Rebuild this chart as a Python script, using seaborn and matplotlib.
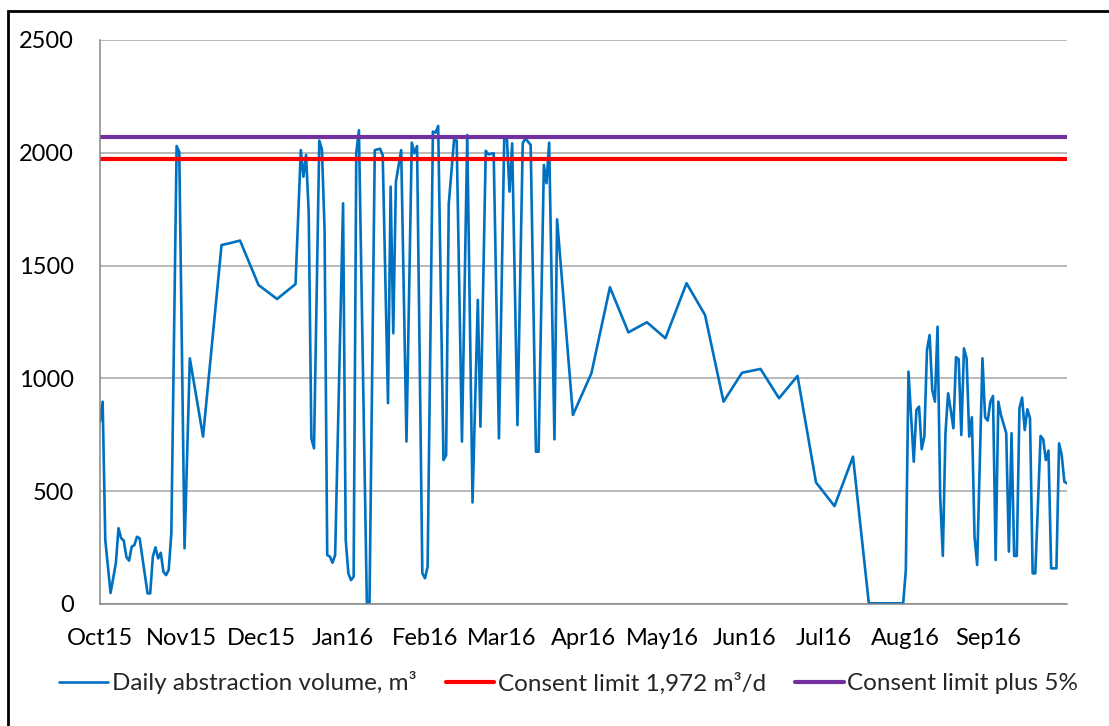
import pandas as pd
import matplotlib
matplotlib.use("Agg")
import matplotlib.pyplot as plt
from matplotlib.patches import Rectangle
import seaborn as sns

# daily abstraction volume (m3)
dates = [
    "2015-10-01", "2015-10-02", "2015-10-03", "2015-10-05", "2015-10-07", "2015-10-08",
    "2015-10-09", "2015-10-10", "2015-10-11", "2015-10-12", "2015-10-13", "2015-10-14",
    "2015-10-15", "2015-10-16", "2015-10-19", "2015-10-20", "2015-10-21", "2015-10-22",
    "2015-10-23", "2015-10-24", "2015-10-25", "2015-10-26", "2015-10-27", "2015-10-28",
    "2015-10-30", "2015-10-31", "2015-11-02", "2015-11-04", "2015-11-09", "2015-11-16",
    "2015-11-19", "2015-11-23", "2015-11-30", "2015-12-07", "2015-12-14", "2015-12-16",
    "2015-12-17", "2015-12-18", "2015-12-19", "2015-12-20", "2015-12-21", "2015-12-23",
    "2015-12-24", "2015-12-25", "2015-12-26", "2015-12-27", "2015-12-28", "2015-12-29",
    "2016-01-01", "2016-01-02", "2016-01-03", "2016-01-04", "2016-01-05", "2016-01-06",
    "2016-01-07", "2016-01-10", "2016-01-11", "2016-01-13", "2016-01-15", "2016-01-16",
    "2016-01-18", "2016-01-19", "2016-01-20", "2016-01-21", "2016-01-23", "2016-01-25",
    "2016-01-27", "2016-01-28", "2016-01-29", "2016-01-31", "2016-02-01", "2016-02-02",
    "2016-02-04", "2016-02-05", "2016-02-06", "2016-02-08", "2016-02-09", "2016-02-10",
    "2016-02-12", "2016-02-13", "2016-02-15", "2016-02-17", "2016-02-19", "2016-02-21",
    "2016-02-22", "2016-02-24", "2016-02-25", "2016-02-27", "2016-02-29", "2016-03-02",
    "2016-03-03", "2016-03-04", "2016-03-05", "2016-03-07", "2016-03-09", "2016-03-10",
    "2016-03-12", "2016-03-14", "2016-03-15", "2016-03-17", "2016-03-18", "2016-03-19",
    "2016-03-21", "2016-03-22", "2016-03-28", "2016-04-04", "2016-04-11", "2016-04-18",
    "2016-04-25", "2016-05-02", "2016-05-10", "2016-05-17", "2016-05-24", "2016-05-31",
    "2016-06-07", "2016-06-14", "2016-06-21", "2016-06-28", "2016-07-05", "2016-07-12",
    "2016-07-18", "2016-07-31", "2016-08-01", "2016-08-02", "2016-08-04", "2016-08-05",
    "2016-08-06", "2016-08-07", "2016-08-08", "2016-08-09", "2016-08-10", "2016-08-11",
    "2016-08-12", "2016-08-13", "2016-08-14", "2016-08-15", "2016-08-16", "2016-08-17",
    "2016-08-18", "2016-08-19", "2016-08-20", "2016-08-21", "2016-08-22", "2016-08-23",
    "2016-08-24", "2016-08-25", "2016-08-26", "2016-08-27", "2016-08-28", "2016-08-30",
    "2016-08-31", "2016-09-01", "2016-09-02", "2016-09-03", "2016-09-04", "2016-09-05",
    "2016-09-06", "2016-09-08", "2016-09-09", "2016-09-10", "2016-09-11", "2016-09-12",
    "2016-09-13", "2016-09-14", "2016-09-15", "2016-09-16", "2016-09-17", "2016-09-18",
    "2016-09-19", "2016-09-21", "2016-09-22", "2016-09-23", "2016-09-24", "2016-09-25",
    "2016-09-27", "2016-09-28", "2016-09-29", "2016-09-30", "2016-10-01",
]
volumes = [
    808, 897, 284, 49, 181, 336,
    292, 281, 208, 192, 254, 261,
    298, 291, 47, 47, 210, 251,
    202, 227, 143, 128, 151, 313,
    2030, 2005, 247, 1089, 742, 1591,
    1599, 1611, 1414, 1352, 1418, 2012,
    1894, 1990, 1732, 734, 690, 2054,
    2015, 1658, 217, 210, 183, 217,
    1776, 284, 136, 106, 121, 2000,
    2100, 3, 3, 2012, 2018, 1990,
    890, 1850, 1200, 1872, 2012, 720,
    2045, 1998, 2030, 136, 114, 165,
    2094, 2089, 2119, 638, 660, 1773,
    2057, 2054, 720, 2079, 450, 1348,
    786, 2009, 1993, 1998, 734, 2064,
    2064, 1828, 2042, 793, 2042, 2064,
    2035, 675, 675, 1946, 1865, 2045,
    730, 1705, 838, 1023, 1404, 1204,
    1249, 1178, 1422, 1281, 897, 1025,
    1042, 912, 1011, 539, 434, 653,
    3, 3, 150, 1030, 631, 860,
    875, 686, 742, 1126, 1192, 949,
    897, 1229, 476, 213, 757, 934,
    860, 779, 1094, 1085, 749, 1133,
    1089, 742, 828, 298, 173, 1089,
    828, 813, 897, 922, 195, 897,
    838, 757, 232, 757, 213, 213,
    867, 915, 771, 863, 823, 136,
    136, 745, 730, 638, 680, 158,
    158, 712, 660, 542, 535,
]

consent_limit = 1972
consent_plus5 = 2070.6
period = ["2015-10-01", "2016-10-01"]
month_labels = ["Oct15", "Nov15", "Dec15", "Jan16", "Feb16", "Mar16", "Apr16",
                "May16", "Jun16", "Jul16", "Aug16", "Sep16", ""]

df = pd.DataFrame({"date": pd.to_datetime(dates), "volume": volumes})
limits = pd.DataFrame({"date": pd.to_datetime(period),
                       "limit": [consent_limit] * 2,
                       "plus5": [consent_plus5] * 2})

sns.set_style("white")
plt.rcParams["font.family"] = ["Lato", "DejaVu Sans"]

fig = plt.figure(figsize=(11.09, 7.26), dpi=100)
ax = fig.add_axes([100 / 1109, 1 - 604 / 726, 967 / 1109, 564 / 726])

sns.lineplot(data=df, x="date", y="volume", ax=ax, color="#0070C0", lw=1.9,
             label="Daily abstraction volume, m³")
sns.lineplot(data=limits, x="date", y="limit", ax=ax, color="#FF0000", lw=3,
             label="Consent limit 1,972 m³/d")
sns.lineplot(data=limits, x="date", y="plus5", ax=ax, color="#7030A0", lw=3,
             label="Consent limit plus 5%")

ax.set_xlim(pd.Timestamp(period[0]), pd.Timestamp(period[1]))
ax.set_ylim(0, 2500)
ax.set_yticks(range(0, 2501, 500))
ax.set_xticks(pd.date_range(period[0], period[1], freq="MS"))
ax.set_xticklabels(month_labels)
ax.set_xlabel("")
ax.set_ylabel("")

ax.grid(axis="y", color="#A6A6A6", lw=1.1)
ax.set_axisbelow(True)
for s in ["top", "right"]:
    ax.spines[s].set_visible(False)
for s in ["left", "bottom"]:
    ax.spines[s].set_color("#868686")
    ax.spines[s].set_linewidth(1.1)
ax.tick_params(axis="both", direction="out", length=7, width=1.1, color="#868686",
               labelsize=17, labelcolor="black")
ax.tick_params(axis="y", pad=12)
ax.tick_params(axis="x", pad=10)

handles, labels = ax.get_legend_handles_labels()
ax.get_legend().remove()
fig.legend(handles, labels, loc="center", bbox_to_anchor=(0.513, 1 - 683 / 726),
           ncol=3, frameon=False, fontsize=17.5, handlelength=2.0, handletextpad=0.15,
           columnspacing=1.2)

# outer chart frame
fig.patches.append(Rectangle((8 / 1109, -0.2), 2, 1.2 - 11 / 726, transform=fig.transFigure,
                             fill=False, ec="black", lw=2))

fig.savefig("out.png", dpi=100)
